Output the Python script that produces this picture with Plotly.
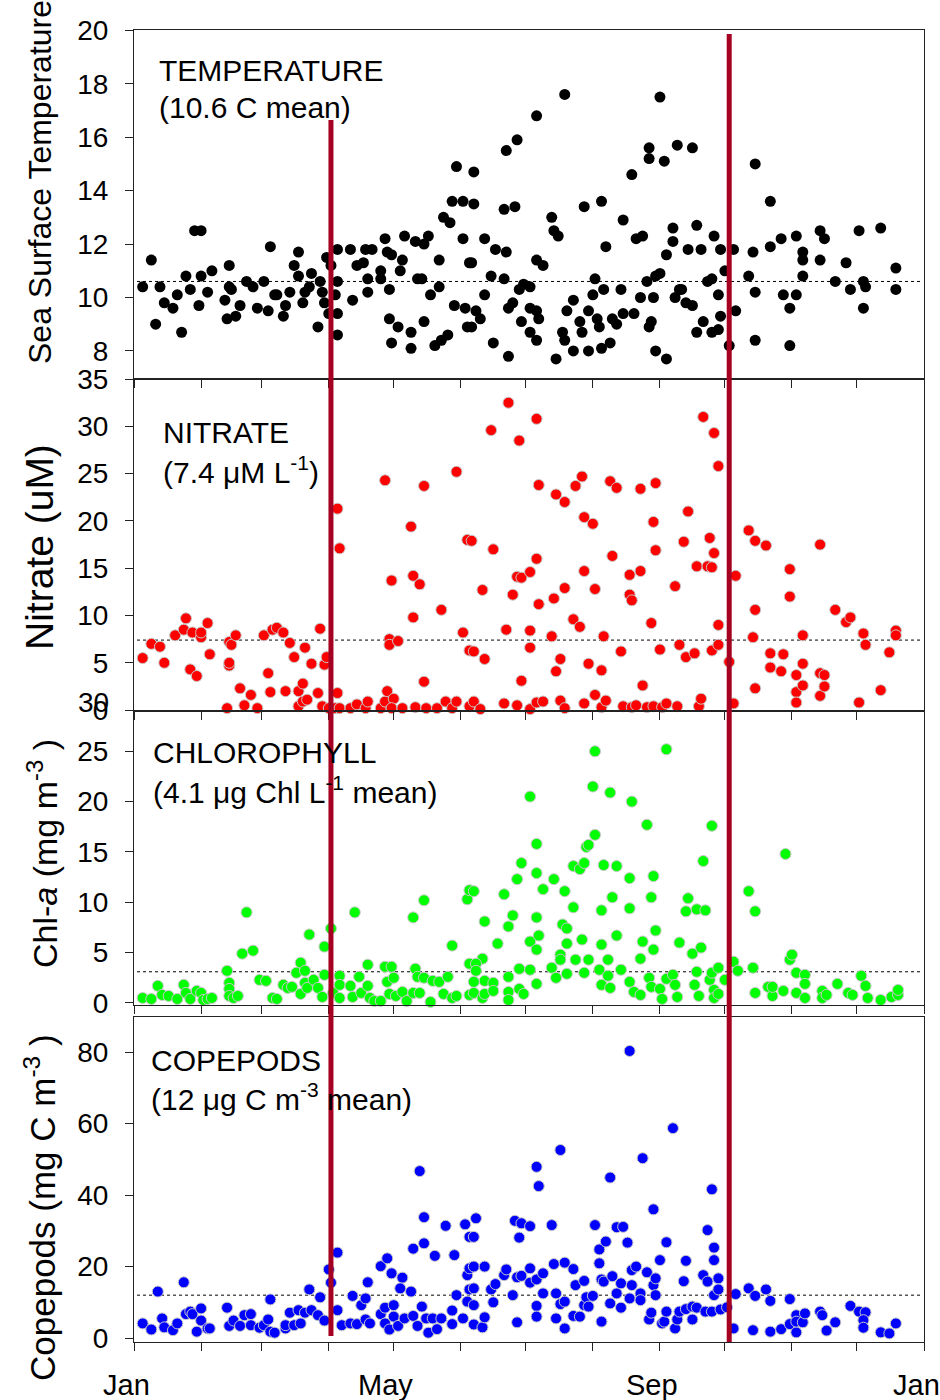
import plotly.graph_objects as go

FONT = "Arial, 'Liberation Sans', sans-serif"

# ---------------- data (day of year, value) ----------------
month_ticks = [0, 31, 59, 90, 120, 151, 181, 212, 243, 273, 304, 334, 365]
month_labels = ["Jan", "", "", "", "May", "", "", "", "Sep", "", "", "", "Jan"]
event_days = [91, 275]

temp_points = [
    (4, 10.4), (8, 11.4), (10, 9.0), (12, 10.4), (14, 9.8), (18, 9.6), (20, 10.1), (22, 8.7), (24, 10.8), (26, 10.3),
    (28, 12.5), (31, 12.5), (30, 9.7), (31, 10.8), (34, 10.2), (36, 11.0), (42, 9.9), (43, 9.2), (44, 11.2), (44, 10.4),
    (45, 10.3), (47, 9.3), (49, 9.7), (52, 10.6), (55, 10.4), (57, 9.6), (60, 10.6), (62, 9.5), (63, 11.9), (65, 10.1),
    (66, 10.1), (69, 9.3), (70, 9.7), (72, 10.2), (74, 11.2), (76, 11.7), (76, 10.8), (78, 9.8), (79, 10.2), (81, 10.4),
    (82, 10.9), (85, 8.9), (86, 10.6), (87, 10.2), (88, 9.8), (89, 11.5), (90, 9.4), (91, 11.2), (93, 10.1), (94, 9.4),
    (94, 8.6), (94, 10.6), (94, 11.8), (100, 11.8), (101, 9.9), (103, 11.2), (106, 11.3), (107, 11.8), (108, 10.7), (108, 10.2),
    (110, 11.8), (114, 11.0), (114, 10.7), (116, 12.2), (117, 11.7), (118, 10.3), (118, 9.2), (119, 11.6), (119, 8.3), (122, 8.9),
    (124, 11.4), (123, 11.0), (125, 12.3), (128, 8.7), (128, 8.1), (130, 12.1), (131, 10.7), (133, 10.7), (134, 12.0), (134, 9.1),
    (136, 12.3), (137, 10.1), (139, 8.2), (141, 11.4), (141, 10.4), (142, 8.4), (143, 13.0), (145, 8.6), (146, 12.8), (147, 13.6),
    (148, 9.7), (149, 14.9), (152, 12.2), (152, 13.6), (153, 9.6), (154, 8.9), (155, 11.3),
    (157, 14.7), (157, 13.5), (156, 11.3), (158, 9.5), (156, 8.9), (160, 9.2), (162, 12.2), (162, 10.1), (165, 10.8), (166, 8.3),
    (167, 11.8), (171, 10.7), (171, 13.3), (172, 15.5), (172, 11.7), (173, 9.6), (173, 7.8), (175, 9.8), (176, 13.4), (177, 15.9),
    (178, 10.3), (179, 9.1), (180, 10.5), (183, 10.4), (183, 8.7), (183, 9.6), (186, 16.8), (186, 8.4), (186, 9.5), (186, 11.4),
    (187, 9.2), (189, 11.2), (193, 13.0), (194, 12.5), (196, 12.3), (195, 7.7), (198, 8.7), (199, 17.6), (200, 9.5), (199, 8.4),
    (203, 9.9), (203, 8.0), (206, 9.1), (207, 8.7), (208, 13.4), (210, 9.5), (210, 8.0), (212, 10.1), (213, 10.7), (214, 9.2),
    (215, 8.9), (216, 8.1), (216, 13.6), (217, 10.3), (218, 11.9), (220, 8.3), (221, 9.2), (223, 9.0), (225, 10.3), (226, 12.9),
    (226, 9.4), (230, 14.6), (231, 9.4), (232, 12.2), (234, 10.0), (235, 12.3), (237, 10.6), (238, 8.9), (238, 15.6), (239, 9.1),
    (238, 15.2), (240, 10.0), (241, 8.0), (241, 10.8), (243, 17.5), (243, 10.9), (245, 15.1), (246, 7.7), (246, 11.6), (249, 12.6),
    (249, 12.1), (250, 10.0), (251, 15.7), (252, 10.3), (253, 10.3), (255, 9.8), (256, 11.8), (258, 15.6), (258, 9.7), (260, 8.7),
    (260, 12.7), (262, 11.8), (263, 9.1), (265, 10.6), (267, 8.7), (267, 10.7), (268, 12.3), (270, 10.1), (270, 8.8), (271, 11.8),
    (271, 9.3), (273, 11.0), (275, 8.2), (277, 11.8), (278, 9.5), (284, 10.8), (286, 11.7), (287, 15.0), (287, 10.2), (287, 8.4),
    (294, 13.6), (294, 11.9), (299, 12.2), (300, 10.1), (303, 9.6), (303, 8.2), (306, 10.1), (306, 12.3), (309, 11.7), (309, 11.4),
    (309, 10.8), (317, 12.5), (319, 12.2), (317, 11.4), (324, 10.6), (329, 11.3), (331, 10.3), (335, 12.5), (337, 10.6), (338, 10.4),
    (337, 9.6), (345, 12.6), (352, 11.1), (352, 10.3),
]

nitrate_points = [
    (4, 5.5), (8, 7.0), (12, 6.7), (14, 5.0), (19, 7.9), (23, 8.5), (24, 9.7), (26, 4.3), (27, 8.2), (29, 3.6),
    (31, 7.7), (31, 8.2), (34, 9.2), (35, 5.9), (43, 0.2), (44, 4.7), (44, 5.0), (44, 7.2), (45, 6.9), (47, 7.9),
    (49, 2.3), (51, 0.5), (54, 1.6), (57, 0.2), (60, 7.9), (62, 3.9), (63, 1.9), (64, 8.5), (66, 8.7), (69, 8.2),
    (70, 2.0), (72, 7.1), (74, 5.6), (76, 0.4), (76, 2.0), (78, 0.9), (78, 2.8), (79, 6.6), (80, 1.1), (82, 4.9),
    (85, 1.8), (86, 8.6), (87, 0.4), (88, 4.8), (89, 5.6), (90, 0.2), (93, 0.2), (94, 21.3), (95, 17.1), (94, 1.8),
    (95, 0.2), (100, 0.2), (103, 0.6), (107, 0.2), (108, 0.9), (114, 0.2), (116, 24.3), (116, 0.9), (117, 2.0), (118, 7.5),
    (118, 6.9), (119, 13.7), (120, 1.2), (119, 0.2), (122, 7.3), (124, 0.2), (128, 19.4), (129, 14.2), (129, 9.8), (130, 0.3),
    (132, 13.3), (134, 23.7), (134, 3.0), (135, 0.2), (140, 0.2), (142, 10.6), (144, 0.9), (147, 0.2), (149, 25.2), (149, 0.9),
    (152, 8.2), (154, 18.0), (155, 0.4), (155, 6.3),
    (156, 17.9), (161, 12.7), (165, 29.6), (157, 6.2), (162, 5.4), (157, 0.9), (160, 0.1), (166, 17.0), (171, 0.7), (172, 8.5),
    (173, 32.5), (175, 12.2), (177, 0.5), (177, 14.1), (178, 28.5), (179, 3.1), (179, 14.0), (183, 0.1), (183, 14.6), (183, 8.4),
    (183, 6.6), (186, 30.8), (186, 0.8), (186, 16.0), (187, 23.8), (187, 11.2), (189, 0.9), (193, 7.8), (194, 11.8), (195, 22.8),
    (195, 4.1), (197, 5.4), (197, 1.0), (199, 22.0), (199, 12.9), (199, 0.2), (203, 9.6), (204, 23.7), (206, 8.8), (207, 24.7),
    (208, 0.7), (208, 14.7), (208, 20.4), (210, 4.9), (212, 19.7), (213, 12.8), (213, 1.6), (216, 4.2), (216, 0.3), (217, 7.8),
    (218, 1.0), (220, 24.2), (221, 16.3), (223, 23.5), (225, 6.2), (226, 0.4), (229, 14.3), (229, 12.2), (230, 11.6), (230, 0.3),
    (232, 0.5), (234, 14.7), (234, 23.4), (235, 2.6), (237, 0.3), (239, 9.2), (240, 19.9), (240, 0.4), (241, 24.0), (241, 16.9),
    (243, 6.4), (244, 0.3), (246, 0.7), (250, 13.1), (251, 0.4), (252, 6.9), (254, 17.8), (255, 5.6), (256, 21.0), (259, 6.0),
    (260, 15.2), (261, 0.4), (262, 1.2), (263, 31.0), (265, 15.2), (266, 18.2), (267, 6.3), (267, 15.1), (268, 16.6), (268, 29.3),
    (270, 25.8), (270, 9.0), (270, 6.9), (275, 5.1), (277, 0.7), (278, 14.2), (284, 19.0), (286, 7.7), (287, 17.9), (287, 10.6),
    (287, 2.3), (292, 17.4), (294, 6.0), (294, 4.5), (299, 4.1), (300, 5.9), (303, 12.0), (303, 14.9), (306, 3.7), (306, 1.9),
    (306, 0.8), (309, 7.9), (309, 4.9), (309, 2.6), (317, 17.5), (317, 3.9), (317, 1.5), (319, 3.7), (319, 2.5), (324, 10.6),
    (329, 9.3), (331, 9.8), (335, 0.8), (337, 8.1), (338, 6.9), (345, 2.1), (349, 6.1), (352, 8.4), (352, 7.9),
]

chl_points = [
    (4, 0.5), (8, 0.4), (11, 1.7), (13, 0.8), (16, 0.7), (20, 0.4), (23, 1.8), (24, 1.0), (26, 0.4), (29, 1.2),
    (31, 1.0), (32, 0.3), (34, 0.4), (36, 0.5), (43, 3.2), (44, 2.0), (44, 1.4), (44, 0.7), (46, 0.5), (48, 0.7),
    (50, 4.9), (52, 9.0), (55, 5.2), (58, 2.3), (61, 2.2), (64, 0.5), (66, 0.4), (69, 1.8), (71, 1.5), (73, 1.6),
    (75, 3.0), (77, 4.0), (77, 0.9), (79, 3.2), (79, 2.0), (80, 1.5), (81, 6.8), (83, 2.3), (85, 1.5), (87, 0.6),
    (88, 2.8), (88, 5.6), (91, 7.4), (92, 1.0), (95, 2.7), (95, 1.8), (95, 0.5), (100, 1.7), (101, 0.6), (102, 9.0),
    (104, 2.6), (105, 1.0), (108, 1.7), (108, 3.8), (109, 0.5), (111, 0.2), (114, 0.2), (116, 3.6), (117, 2.1), (119, 3.6),
    (118, 0.9), (120, 2.5), (121, 0.7), (124, 1.1), (126, 0.2), (129, 8.5), (129, 1.0), (130, 3.4), (131, 2.6), (132, 1.0),
    (134, 2.5), (134, 10.2), (137, 0.1), (138, 2.2), (141, 2.1), (145, 2.6), (143, 0.9), (147, 5.7), (147, 0.5), (149, 0.7),
    (154, 10.3), (155, 0.8), (155, 3.9), (155, 11.2),
    (157, 11.1), (162, 8.1), (161, 4.4), (158, 3.9), (158, 3.2), (162, 2.2), (166, 2.0), (157, 2.1), (157, 1.0), (161, 0.5),
    (162, 0.9), (166, 1.2), (168, 5.9), (171, 10.8), (173, 2.6), (173, 1.1), (173, 0.3), (173, 7.6), (175, 8.7), (177, 12.3),
    (178, 3.4), (178, 1.4), (179, 13.9), (180, 0.9), (183, 6.1), (183, 3.3), (183, 20.5), (186, 15.8), (186, 12.9), (186, 8.5),
    (186, 5.3), (186, 1.9), (187, 6.7), (189, 11.3), (193, 3.5), (194, 12.3), (195, 2.5), (197, 4.8), (197, 4.3), (198, 7.8),
    (200, 7.4), (199, 11.1), (200, 2.9), (200, 5.9), (203, 9.5), (203, 13.6), (204, 4.3), (206, 13.3), (207, 6.3), (208, 13.9),
    (208, 3.0), (209, 15.5), (210, 4.3), (210, 15.7), (212, 21.5), (213, 16.7), (213, 25.0), (215, 3.3), (216, 5.8), (216, 9.2),
    (216, 1.8), (217, 13.7), (219, 4.3), (219, 2.7), (220, 20.9), (220, 1.5), (221, 10.5), (223, 13.6), (223, 6.7), (225, 3.3),
    (229, 2.1), (229, 12.4), (229, 9.4), (230, 20.0), (231, 1.1), (234, 0.8), (234, 4.4), (235, 6.1), (237, 17.7), (238, 2.5),
    (239, 10.5), (239, 1.6), (240, 12.6), (240, 5.3), (241, 7.2), (243, 1.4), (244, 0.4), (246, 25.2), (246, 2.4), (249, 2.8),
    (250, 1.8), (251, 0.6), (252, 6.0), (255, 9.1), (256, 10.4), (258, 4.9), (259, 1.8), (260, 3.1), (260, 9.3), (261, 0.7),
    (262, 5.5), (263, 14.1), (264, 9.2), (266, 2.3), (267, 17.6), (267, 3.0), (268, 1.3), (268, 0.5), (270, 3.5), (270, 0.9),
    (273, 2.3), (277, 4.1), (279, 3.2), (284, 11.1), (286, 3.5), (287, 9.1), (287, 1.0), (293, 1.6), (295, 0.7), (295, 1.6),
    (300, 1.2), (301, 14.8), (303, 4.3), (304, 4.8), (306, 3.0), (306, 1.0), (310, 2.8), (310, 1.9), (310, 0.5), (318, 1.2),
    (318, 0.5), (320, 0.8), (325, 1.9), (330, 1.0), (332, 0.8), (336, 2.7), (338, 1.7), (339, 0.5), (345, 0.3), (350, 0.6),
    (353, 0.8), (353, 1.3),
]

copepod_points = [
    (4, 4.1), (8, 2.4), (11, 13.0), (13, 5.5), (14, 3.0), (18, 2.2), (20, 4.1), (23, 15.6), (24, 6.7), (26, 7.4),
    (27, 6.7), (29, 1.8), (31, 4.9), (31, 8.3), (34, 2.7), (35, 2.7), (43, 8.5), (44, 3.4), (46, 4.9), (49, 3.4),
    (51, 6.4), (54, 6.7), (54, 3.6), (58, 2.9), (60, 3.6), (62, 5.2), (63, 10.8), (63, 1.8), (65, 1.5), (70, 2.7),
    (70, 3.6), (72, 7.1), (74, 3.6), (76, 7.8), (77, 4.1), (79, 7.1), (81, 13.6), (82, 7.8), (85, 6.4), (86, 11.4),
    (88, 4.9), (90, 19.2), (91, 15.5), (94, 23.9), (94, 7.8), (96, 3.6), (100, 4.1), (101, 11.8), (103, 3.9), (105, 9.2),
    (107, 11.1), (107, 5.2), (108, 15.6), (109, 4.1), (114, 20.1), (114, 6.7), (116, 8.5), (116, 4.1), (117, 22.3), (118, 2.4),
    (119, 18.1), (120, 9.2), (120, 6.0), (122, 3.4), (124, 16.9), (123, 13.9), (125, 5.5), (128, 13.0), (129, 6.2), (129, 25.0),
    (131, 3.4), (132, 46.7), (133, 8.8), (134, 33.8), (134, 26.5), (135, 5.5), (136, 1.5), (138, 5.5), (139, 23.0), (140, 2.5),
    (142, 5.5), (144, 31.4), (147, 3.9), (147, 7.7), (148, 23.2), (149, 12.0), (152, 5.5), (153, 31.8), (154, 10.2), (154, 17.6),
    (155, 19.5), (155, 28.3), (155, 13.6),
    (158, 33.5), (157, 28.3), (157, 20.0), (162, 20.0), (157, 13.9), (157, 9.2), (157, 3.8), (161, 3.0), (162, 5.8), (165, 13.6),
    (166, 10.0), (167, 15.1), (171, 17.6), (172, 19.2), (175, 12.0), (176, 32.8), (177, 17.0), (177, 4.4), (178, 28.1), (179, 32.1),
    (179, 17.4), (183, 15.5), (183, 31.3), (183, 19.5), (186, 47.9), (187, 42.5), (186, 16.4), (186, 9.0), (186, 6.0), (189, 18.1),
    (189, 12.5), (193, 31.6), (194, 20.7), (195, 5.5), (195, 12.5), (197, 52.6), (197, 9.5), (199, 10.2), (199, 2.7), (199, 21.1),
    (203, 19.3), (203, 6.2), (204, 14.8), (206, 6.0), (208, 16.0), (208, 9.2), (209, 11.4), (210, 8.8), (212, 11.8), (213, 31.6),
    (215, 20.9), (215, 24.8), (216, 4.6), (216, 16.4), (217, 15.8), (218, 27.0), (220, 44.9), (220, 9.7), (221, 17.3), (223, 12.5),
    (223, 31.0), (225, 15.3), (225, 8.5), (226, 31.1), (228, 26.7), (229, 80.3), (229, 11.1), (230, 14.8), (230, 19.0), (232, 20.0),
    (234, 12.5), (234, 10.6), (235, 50.3), (237, 18.4), (238, 5.2), (239, 7.1), (240, 36.0), (240, 14.8), (241, 12.0), (241, 16.7),
    (243, 21.8), (244, 4.1), (245, 4.6), (246, 7.4), (246, 26.8), (249, 58.7), (250, 2.7), (251, 5.2), (252, 7.4), (254, 15.9),
    (255, 21.6), (255, 8.1), (258, 5.2), (258, 8.8), (260, 8.5), (263, 17.6), (264, 7.4), (265, 30.2), (265, 15.8), (267, 7.4),
    (267, 41.6), (268, 25.3), (268, 21.8), (268, 12.0), (270, 16.7), (270, 13.6), (271, 8.0), (274, 8.6), (277, 2.7), (278, 12.3),
    (284, 13.9), (286, 2.2), (287, 11.8), (292, 13.6), (294, 10.4), (294, 1.8), (299, 2.5), (303, 3.9), (303, 10.9), (306, 6.4),
    (306, 1.6), (306, 4.6), (309, 4.4), (310, 6.9), (317, 7.4), (318, 6.4), (320, 2.1), (324, 4.4), (331, 9.0), (335, 7.4),
    (338, 7.2), (337, 5.0), (337, 2.9), (345, 1.6), (349, 1.3), (352, 4.1),
]

mean_levels = [10.6, 7.4, 3.1, 12]
panel_titles = ["TEMPERATURE", "NITRATE", "CHLOROPHYLL", "COPEPODS"]
panel_subtitles = ["(10.6 C mean)", "(7.4 μM L<sup>-1</sup>)",
                   "(4.1 μg Chl L<sup>-1</sup> mean)", "(12 μg C m<sup>-3</sup> mean)"]
y_titles = ["Sea Surface Temperature", "Nitrate (uM)",
            "Chl-<i>a</i> (mg m<sup>-3</sup> )", "Copepods (mg C m<sup>-3</sup> )"]
y_ticks = [[8, 10, 12, 14, 16, 18, 20], [0, 5, 10, 15, 20, 25, 30, 35],
           [0, 5, 10, 15, 20, 25], [0, 20, 40, 60, 80]]

# ---------------- layout geometry (pixels) ----------------
W, H = 940, 1400
ML, MR, MT, MB = 134, 16, 30, 58
PH = H - MT - MB
PW = W - ML - MR


def py(p):
    return (H - MB - p) / PH


def px(p):
    return (p - ML) / PW


panel_px = [(30, 379), (379, 711), (711, 1005), (1017, 1342)]
y_ranges = [[6.95, 20.01], [-0.1, 35.01], [-0.2, 29.0], [-1.1, 89.8]]
colors = ["black", "#ff0000", "#00ff00", "#0000ff"]
outlines = [None, "rgb(200,200,200)", "rgb(200,200,200)", "rgb(200,200,200)"]
series = [temp_points, nitrate_points, chl_points, copepod_points]

fig = go.Figure()
axis_line = "#222222"

for i in range(4):
    n = "" if i == 0 else str(i + 1)
    pts = series[i]
    marker = dict(size=11, color=colors[i])
    if outlines[i]:
        marker["line"] = dict(color=outlines[i], width=1)
    else:
        marker["line"] = dict(width=0)
    fig.add_trace(go.Scatter(
        x=[p[0] for p in pts], y=[p[1] for p in pts], mode="markers",
        marker=marker, xaxis="x" + n, yaxis="y" + n, cliponaxis=False,
        showlegend=False, hoverinfo="skip"))
    top, bot = panel_px[i]
    fig.update_layout(**{
        "xaxis" + n: dict(
            domain=[0, 1], range=[0, 365], anchor="y" + n, automargin=False,
            tickmode="array", tickvals=month_ticks, showticklabels=False,
            ticks="outside", ticklen=8, tickwidth=1,
            tickcolor=axis_line, showline=True, linecolor=axis_line, linewidth=1,
            mirror=True, showgrid=False, zeroline=False),
        "yaxis" + n: dict(
            domain=[py(bot), py(top)], range=y_ranges[i], anchor="x" + n,
            automargin=False,
            tickmode="array", tickvals=y_ticks[i],
            ticks="outside", ticklen=8, tickwidth=1, tickcolor=axis_line,
            showline=True, linecolor=axis_line, linewidth=1, mirror=True,
            showgrid=False, zeroline=False,
            tickfont=dict(family=FONT, size=28, color="black"),
            ticklabelstandoff=11),
    })
    # dotted mean line
    fig.add_shape(type="line", xref="x" + n, yref="y" + n, x0=1.4, x1=364,
                  y0=mean_levels[i], y1=mean_levels[i],
                  line=dict(color="black", width=1, dash="dot"), layer="below")

# month labels under the bottom panel (placed on the month ticks)
for d, lab in zip(month_ticks, month_labels):
    if lab:
        fig.add_annotation(text=lab, xref="x4", yref="paper", x=d, y=py(1385),
                           xshift=-8, xanchor="center", yanchor="middle",
                           showarrow=False,
                           font=dict(family=FONT, size=29, color="black"))

# panel annotations
title_pos = [(157, 70, 107), (161, 432, 470), (151, 752, 790), (149, 1060, 1097)]
for i in range(4):
    x0, y1, y2 = title_pos[i]
    fig.add_annotation(text=panel_titles[i], xref="paper", yref="paper",
                       x=px(x0), y=py(y1), xanchor="left", yanchor="middle",
                       showarrow=False, font=dict(family=FONT, size=30, color="black"))
    fig.add_annotation(text=panel_subtitles[i], xref="paper", yref="paper",
                       x=px(x0), y=py(y2), xanchor="left", yanchor="middle",
                       showarrow=False, font=dict(family=FONT, size=30, color="black"))

# y-axis titles
ytitle_pos = [(40, 182, 32), (39, 547, 39), (42, 854, 34), (40, 1208, 35)]
for i in range(4):
    xx, yy, fs = ytitle_pos[i]
    fig.add_annotation(text=y_titles[i], xref="paper", yref="paper",
                       x=px(xx), y=py(yy), xanchor="center", yanchor="middle",
                       textangle=-90, showarrow=False,
                       font=dict(family=FONT, size=fs, color="black"))

# overlapping "30" label of chlorophyll panel top
fig.add_annotation(text="30", xref="paper", yref="paper", x=px(111), y=py(702),
                   xanchor="right", yanchor="middle", showarrow=False,
                   font=dict(family=FONT, size=28, color="black"))

# vertical event lines
event_spans = [(120, 1336), (34, 1342)]
for d, (t, b) in zip(event_days, event_spans):
    fig.add_shape(type="line", xref="x", yref="paper", x0=d, x1=d,
                  y0=py(b), y1=py(t), line=dict(color="#a50021", width=5),
                  layer="above")

fig.update_layout(
    width=W, height=H, margin=dict(l=ML, r=MR, t=MT, b=MB, autoexpand=False),
    paper_bgcolor="white", plot_bgcolor="white",
    font=dict(family=FONT, color="black"),
)

fig.write_html("out.html", config={"displayModeBar": False},
               post_script="document.body.style.margin='0';document.body.style.overflow='hidden';")
